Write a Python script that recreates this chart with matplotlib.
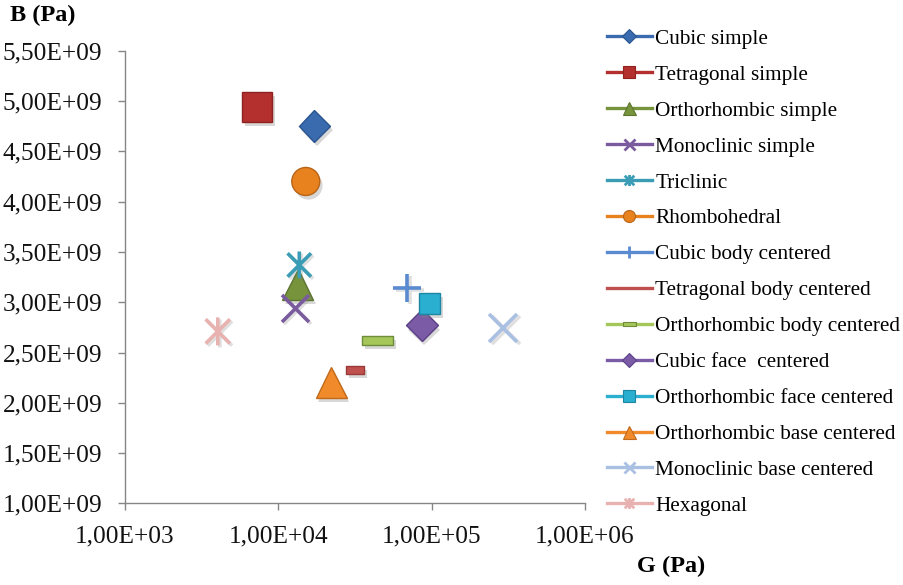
import matplotlib
matplotlib.use("Agg")
import matplotlib.pyplot as plt
from matplotlib.path import Path
from matplotlib.lines import Line2D
import matplotlib.patheffects as pe
import numpy as np

plt.rcParams['font.family'] = ['Liberation Serif', 'DejaVu Serif']

# ---------------- data ----------------
series_names = [
    "Cubic simple", "Tetragonal simple", "Orthorhombic simple",
    "Monoclinic simple", "Triclinic", "Rhombohedral",
    "Cubic body centered", "Tetragonal body centered",
    "Orthorhombic body centered", "Cubic face  centered",
    "Orthorhombic face centered", "Orthorhombic base centered",
    "Monoclinic base centered", "Hexagonal",
]
G_values = [1.72e4, 7.3e3, 1.34e4, 1.29e4, 1.37e4, 1.51e4, 6.95e4,
            3.16e4, 4.45e4, 8.6e4, 9.66e4, 2.21e4, 2.94e5, 4.03e3]
B_values = [4.75e9, 4.94e9, 3.18e9, 2.94e9, 3.37e9, 4.20e9, 3.14e9,
            2.33e9, 2.62e9, 2.77e9, 2.99e9, 2.20e9, 2.74e9, 2.71e9]

x_ticks = [1e3, 1e4, 1e5, 1e6]
x_tick_labels = ["1,00E+03", "1,00E+04", "1,00E+05", "1,00E+06"]
y_ticks = [1.0e9, 1.5e9, 2.0e9, 2.5e9, 3.0e9, 3.5e9, 4.0e9, 4.5e9, 5.0e9, 5.5e9]
y_tick_labels = ["1,00E+09", "1,50E+09", "2,00E+09", "2,50E+09", "3,00E+09",
                 "3,50E+09", "4,00E+09", "4,50E+09", "5,00E+09", "5,50E+09"]

# ---------------- styles ----------------
asterisk = Path([(-1, -1), (1, 1), (-1, 1), (1, -1), (0, -1.15), (0, 1.15)],
                [Path.MOVETO, Path.LINETO, Path.MOVETO, Path.LINETO,
                 Path.MOVETO, Path.LINETO])
long_bar = Path([(-1, -0.27), (1, -0.27), (1, 0.27), (-1, 0.27), (-1, -0.27)],
                [Path.MOVETO, Path.LINETO, Path.LINETO, Path.LINETO, Path.CLOSEPOLY])
short_bar = Path([(-1, -0.45), (1, -0.45), (1, 0.45), (-1, 0.45), (-1, -0.45)],
                 [Path.MOVETO, Path.LINETO, Path.LINETO, Path.LINETO, Path.CLOSEPOLY])

colors = ["#3A6BAE", "#B3302E", "#77933C", "#7A5C9E", "#3A9DB5", "#E8821E",
          "#5A8AD0", "#C0504D", "#A5C75A", "#7B5BA6", "#2BAFD0", "#F08A2A",
          "#A9C0E3", "#E8B2B0"]
edge_colors = ["#2A5590", "#8E2220", "#5C7530", "#7A5C9E", "#3A9DB5", "#B86418",
               "#5A8AD0", "#9A3A38", "#6F8C3A", "#5B3F86", "#1D86A3", "#C06A1A",
               "#A9C0E3", "#E8B2B0"]
markers = ["D", "s", "^", "x", asterisk, "o", "+", short_bar, long_bar, "D",
           "s", "^", "x", asterisk]
sizes = [22.5, 30, 31, 27, 27, 28, 28, 18, 31, 22.5, 21, 31, 28, 28]   # px
line_marker = [False, False, False, True, True, False, True, False, False,
               False, False, False, True, True]
legend_sizes = [10.5, 12.5, 13, 11, 11, 12, 12, 0, 13, 10.5, 12.5, 13, 11, 11]

DPI = 100
fig = plt.figure(figsize=(9.04, 5.85), dpi=DPI)
ax = fig.add_axes([125 / 904, 1 - 503.4 / 585, (585 - 125) / 904, (503.4 - 50.7) / 585])

px = 72.0 / DPI
handles = []
for i, name in enumerate(series_names):
    ms = sizes[i] * px
    if line_marker[i]:
        ax.plot([G_values[i]], [B_values[i]], linestyle='none', marker=markers[i],
                markersize=ms, markeredgewidth=2.6, color=colors[i],
                path_effects=[pe.SimpleLineShadow(offset=(1.5, -1.5), shadow_color='gray', alpha=0.25),
                              pe.Normal()], zorder=3)
    else:
        ax.plot([G_values[i]], [B_values[i]], linestyle='none', marker=markers[i],
                markersize=ms, markerfacecolor=colors[i], markeredgecolor=edge_colors[i],
                markeredgewidth=1.0,
                path_effects=[pe.SimplePatchShadow(offset=(2, -3), shadow_rgbFace='gray', alpha=0.3),
                              pe.Normal()], zorder=3)
    lm = legend_sizes[i] * px
    if line_marker[i]:
        h = Line2D([], [], color=colors[i], lw=2.4, marker=markers[i], markersize=lm,
                   markeredgewidth=2.0)
    elif legend_sizes[i] == 0:
        h = Line2D([], [], color=colors[i], lw=2.4)
    else:
        h = Line2D([], [], color=colors[i], lw=2.4, marker=markers[i], markersize=lm,
                   markerfacecolor=colors[i], markeredgecolor=edge_colors[i], markeredgewidth=0.8)
    handles.append(h)

ax.set_xscale('log')
ax.set_xlim(1e3, 1e6)
ax.set_ylim(1e9, 5.5e9)
ax.set_xticks(x_ticks)
ax.set_xticklabels(x_tick_labels)
ax.xaxis.set_minor_locator(matplotlib.ticker.NullLocator())
ax.set_yticks(y_ticks)
ax.set_yticklabels(y_tick_labels)

for s in ['top', 'right']:
    ax.spines[s].set_visible(False)
for s in ['left', 'bottom']:
    ax.spines[s].set_color('#868686')
    ax.spines[s].set_linewidth(1.0)
ax.tick_params(axis='both', which='major', direction='out', length=5, width=1.0,
               color='#868686', labelsize=18.2, labelcolor='#111111')
ax.tick_params(axis='y', pad=11.5)
ax.tick_params(axis='x', pad=11)

fig.text(10 / 904, 1 - 15 / 585, "B (Pa)", fontsize=17.5, fontweight='bold',
         ha='left', va='center')
fig.text(671 / 904, 1 - 566 / 585, "G (Pa)", fontsize=17.5, fontweight='bold',
         ha='center', va='center')

leg = fig.legend(handles=handles, labels=series_names, loc='upper left',
                 bbox_to_anchor=(607 / 904, 1 - 29 / 585), frameon=False,
                 fontsize=15.3, handlelength=2.1, handletextpad=0.17,
                 labelspacing=0.755, borderaxespad=0, borderpad=0)

fig.savefig("out.png", dpi=DPI)
